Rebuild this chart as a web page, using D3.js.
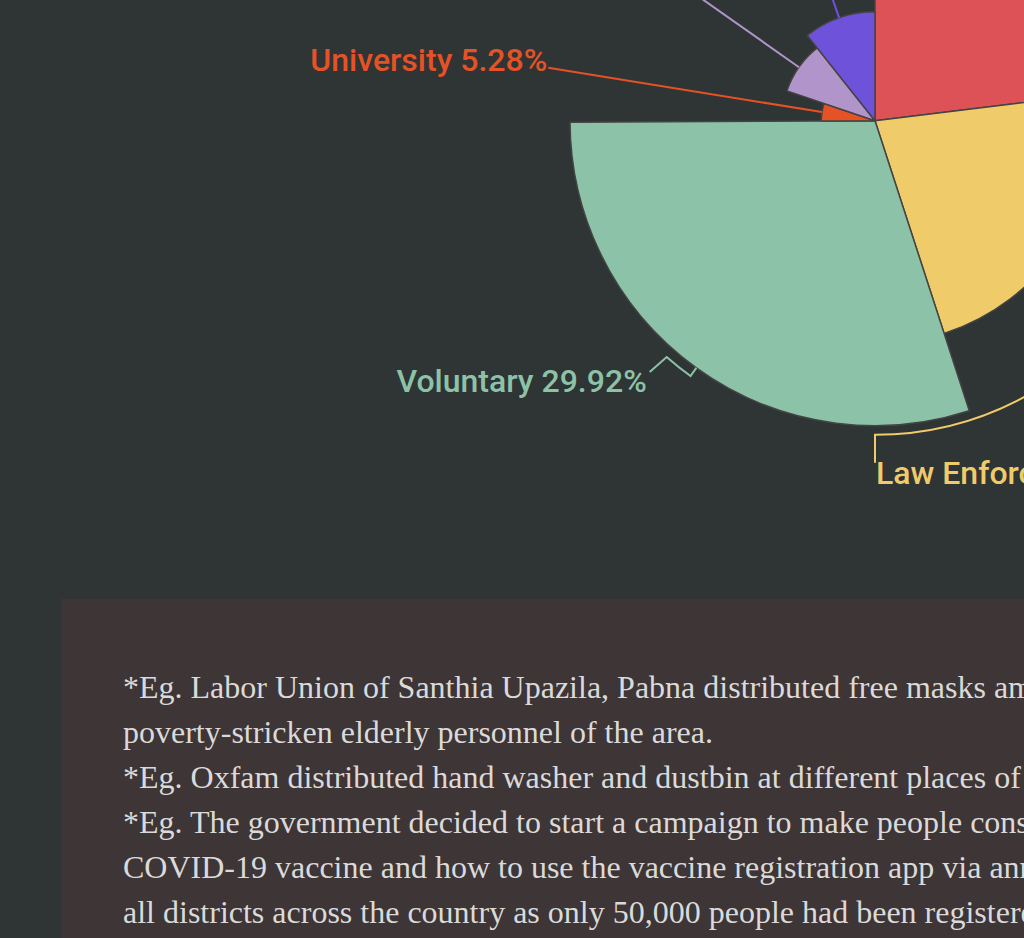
<!DOCTYPE html>
<html>
<head>
<meta charset="utf-8">
<script src="https://cdn.jsdelivr.net/npm/d3@7"></script>
<style>
  body { margin: 0; background: #2f3435; overflow: hidden; }
  svg { display: block; }
</style>
</head>
<body>
<svg id="chart"></svg>
<script>
// data: share of initiatives by sector (percent)
var sectors = ["Government", "Law Enforcement", "Voluntary", "University", "Labor Union", "NGO"];
var shares = [23.06, 21.94, 29.92, 5.28, 9.12, 10.68];
var colors = ["#dc5256", "#f0cb69", "#8cc3a8", "#e45226", "#b094ca", "#6e52da"];

var notes = [
  "*Eg. Labor Union of Santhia Upazila, Pabna distributed free masks among the",
  "poverty-stricken elderly personnel of the area.",
  "*Eg. Oxfam distributed hand washer and dustbin at different places of the city.",
  "*Eg. The government decided to start a campaign to make people conscious about",
  "COVID-19 vaccine and how to use the vaccine registration app via announcements in",
  "all districts across the country as only 50,000 people had been registered so far."
];

// set the dimensions of the page
var width = 1024, height = 938;
var cx = 875, cy = 120.7, maxR = 305;

var svg = d3.select("#chart")
    .attr("width", width)
    .attr("height", height);

// rose pie: angle and radius both follow the share
var r = d3.scaleLinear()
  .domain([0, d3.max(shares)])
  .range([0, maxR]);

var pie = d3.pie().sort(null).value(function(d) { return d; });
var arcs = pie(shares);

var arc = d3.arc()
  .innerRadius(0)
  .outerRadius(function(d) { return r(d.data); });

var g = svg.append("g")
    .attr("transform", "translate(" + cx + "," + cy + ")");

g.selectAll("path.slice")
  .data(arcs)
  .enter()
  .append("path")
    .attr("class", "slice")
    .attr("d", arc)
    .attr("fill", function(d, i) { return colors[i]; })
    .attr("stroke", "#444")
    .attr("stroke-width", 1.5)
    .attr("stroke-linejoin", "round");

// label line routes: radial out to lineR, along that circle to turnAngle, then a tail
var deg = Math.PI / 180;
var labelLayout = [
  {lineR: 330, turn: null, tail: [0, 0], text: [8, -6], anchor: "start"},
  {lineR: 314, turn: 180, tail: [0, 28], text: [1, 21], anchor: "start"},
  {lineR: 315, turn: 221.4, tail: [-17, 15], text: [-3, 20], anchor: "end"},
  {lineR: 331, turn: null, tail: [0, 0], text: [-1, 3], anchor: "end"},
  {lineR: 340, turn: null, tail: [0, 0], text: [-4, -8], anchor: "end"},
  {lineR: 300, turn: null, tail: [0, 0], text: [0, -8], anchor: "middle"}
];

function pt(a, rr) { return [rr * Math.sin(a), -rr * Math.cos(a)]; }

var labels = arcs.map(function(d, i) {
  var L = labelLayout[i];
  var mid = (d.startAngle + d.endAngle) / 2;
  var p0 = pt(mid, r(d.data)), p1 = pt(mid, L.lineR);
  var path = "M" + p0 + "L" + p1;
  var end = p1;
  if (L.turn !== null) {
    end = pt(L.turn * deg, L.lineR);
    path += "A" + L.lineR + "," + L.lineR + " 0 0 1 " + end;
  }
  end = [end[0] + L.tail[0], end[1] + L.tail[1]];
  path += "L" + end;
  return {path: path, x: end[0] + L.text[0], y: end[1] + L.text[1], anchor: L.anchor, i: i, v: d.data};
});

g.selectAll("path.leader")
  .data(labels)
  .enter()
  .append("path")
    .attr("class", "leader")
    .attr("d", function(d) { return d.path; })
    .attr("fill", "none")
    .attr("stroke", function(d) { return colors[d.i]; })
    .attr("stroke-width", 2);

g.selectAll("text.label")
  .data(labels)
  .enter()
  .append("text")
    .attr("class", "label")
    .attr("x", function(d) { return d.x; })
    .attr("y", function(d) { return d.y; })
    .attr("text-anchor", function(d) { return d.anchor; })
    .attr("fill", function(d) { return colors[d.i]; })
    .attr("font-family", "Roboto")
    .attr("font-weight", 500)
    .attr("font-size", "32px")
    .text(function(d) { return sectors[d.i] + " " + d3.format(".2f")(d.v) + "%"; });

// notes box below the chart
svg.append("rect")
  .attr("x", 61)
  .attr("y", 599)
  .attr("width", 1100)
  .attr("height", 400)
  .attr("fill", "#3e3536");

var noteText = svg.append("g")
  .attr("transform", "translate(123,0)");

noteText.selectAll("text")
  .data(notes)
  .enter()
  .append("text")
    .attr("x", 0)
    .attr("y", function(d, i) { return 698 + i * 45; })
    .attr("fill", "#dadada")
    .attr("font-family", "Liberation Serif")
    .attr("font-size", "32px")
    .text(function(d) { return d; });
</script>
</body>
</html>
